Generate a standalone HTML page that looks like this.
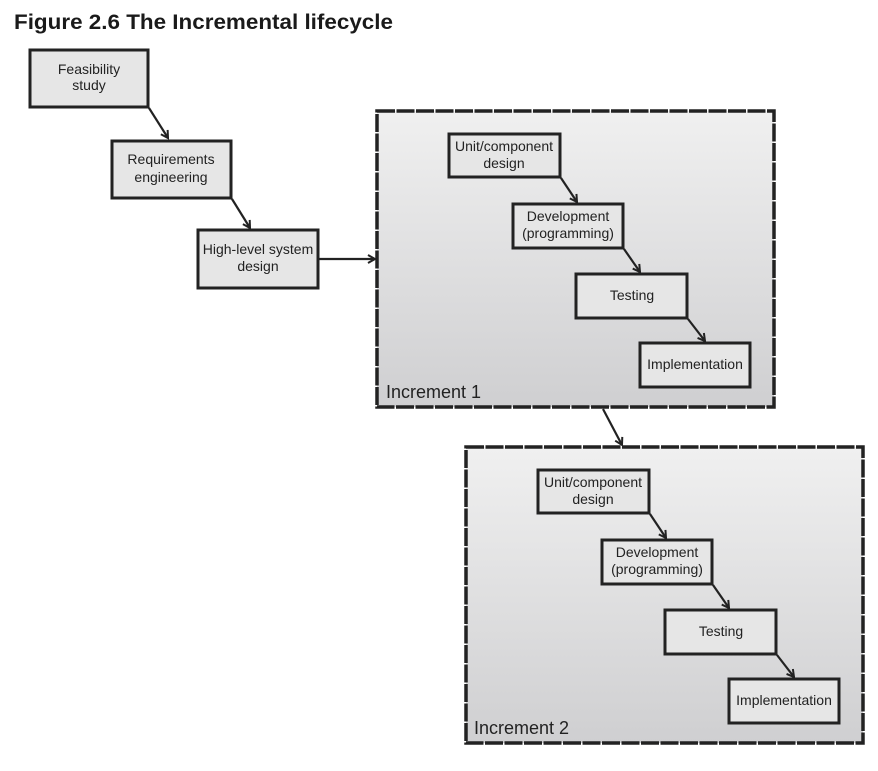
<!DOCTYPE html>
<html><head><style>
body{margin:0;background:#fff;width:878px;height:766px;overflow:hidden;}
svg text{font-family:"Liberation Sans",Arial,sans-serif;}
</style></head><body>
<svg width="878" height="766" xmlns="http://www.w3.org/2000/svg">
<defs>
<linearGradient id="g" x1="0" y1="0" x2="0" y2="1"><stop offset="0" stop-color="#f0f0f0"/><stop offset="1" stop-color="#cfcfd1"/></linearGradient>
<marker id="a" markerWidth="10" markerHeight="10" refX="8" refY="5" orient="auto" markerUnits="userSpaceOnUse"><path d="M1,1 L8,5 L1,9" fill="none" stroke="#222" stroke-width="2"/></marker>
</defs>
<text x="14" y="29" font-size="21" font-weight="bold" fill="#1a1a1a" textLength="379" lengthAdjust="spacingAndGlyphs">Figure 2.6  The Incremental lifecycle</text>
<g stroke="#222" stroke-width="3" fill="#e6e6e6">
<rect x="30" y="50" width="118" height="57"/>
<rect x="112" y="141" width="119" height="57"/>
<rect x="198" y="230" width="120" height="58"/>
</g>
<g font-size="14" fill="#222" text-anchor="middle">
<text x="89" y="74">Feasibility</text><text x="89" y="90">study</text>
<text x="171" y="164">Requirements</text><text x="171" y="182">engineering</text>
<text x="258" y="254">High-level system</text><text x="258" y="271">design</text>
</g>
<g stroke="#222" stroke-width="2.2" fill="none" marker-end="url(#a)">
<line x1="149" y1="108" x2="168" y2="138"/>
<line x1="232" y1="199" x2="250" y2="228"/>
<line x1="318" y1="259" x2="375" y2="259"/>
<line x1="603" y1="409" x2="622" y2="445"/>
</g>
<g id="inc">
<rect x="377" y="111" width="397" height="296" fill="url(#g)" stroke="#222" stroke-width="3.5" stroke-dasharray="18,1.5"/>
<g stroke="#222" stroke-width="3" fill="#e6e6e6">
<rect x="449" y="134" width="111" height="43"/>
<rect x="513" y="204" width="110" height="44"/>
<rect x="576" y="274" width="111" height="44"/>
<rect x="640" y="343" width="110" height="44"/>
</g>
<g font-size="14" fill="#222" text-anchor="middle">
<text x="504" y="151">Unit/component</text><text x="504" y="168">design</text>
<text x="568" y="221">Development</text><text x="568" y="238">(programming)</text>
<text x="632" y="300">Testing</text>
<text x="695" y="369">Implementation</text>
</g>
<g stroke="#222" stroke-width="2.2" fill="none" marker-end="url(#a)">
<line x1="561" y1="178" x2="577" y2="202"/>
<line x1="624" y1="249" x2="640" y2="272"/>
<line x1="688" y1="319" x2="705" y2="341"/>
</g>
</g>
<text x="386" y="398" font-size="18" fill="#222">Increment 1</text>
<use href="#inc" transform="translate(89,336)"/>
<text x="474" y="734" font-size="18" fill="#222">Increment 2</text>
</svg>
</body></html>
